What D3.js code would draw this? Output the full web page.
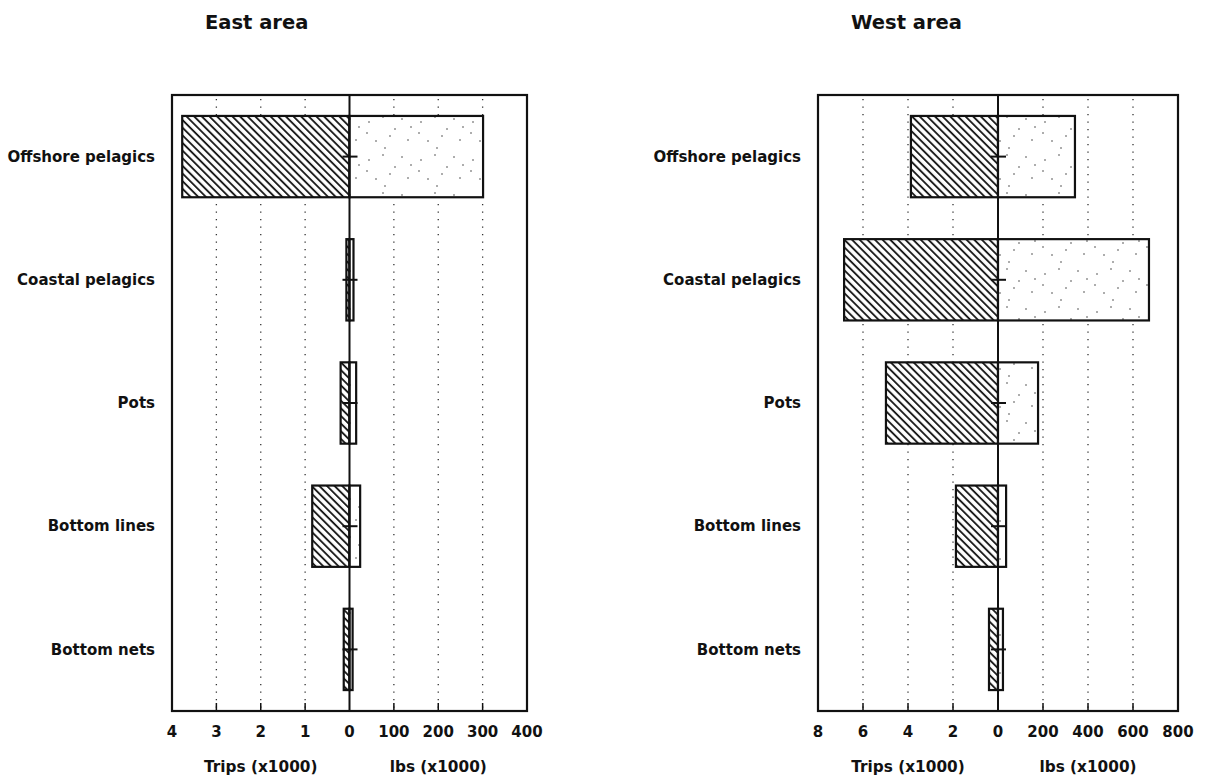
<!DOCTYPE html>
<html>
<head>
<meta charset="utf-8">
<script src="https://cdn.jsdelivr.net/npm/d3@7/dist/d3.min.js"></script>
<style>
  html, body { margin: 0; padding: 0; background: #fff; }
  svg { display: block; }
  text { font-family: "DejaVu Sans", "Liberation Sans", Arial, sans-serif; font-weight: bold; fill: #111; }
</style>
</head>
<body>
<svg id="chart" width="1209" height="784"></svg>
<script>
// ---- data ----
const categories = ["Offshore pelagics", "Coastal pelagics", "Pots", "Bottom lines", "Bottom nets"];
const eastTrips = [3.77, 0.07, 0.2, 0.84, 0.13];   // x1000 trips
const eastLbs   = [301, 9, 15, 24, 7];             // x1000 lbs
const westTrips = [3.87, 6.84, 4.98, 1.87, 0.4];
const westLbs   = [342, 671, 178, 36, 22];
const eastTripTicks = [4, 3, 2, 1];
const eastLbsTicks  = [100, 200, 300, 400];
const westTripTicks = [8, 6, 4, 2];
const westLbsTicks  = [200, 400, 600, 800];
const panelTitles = ["East area", "West area"];
const axisTitles = ["Trips (x1000)", "lbs (x1000)"];

const svg = d3.select("#chart");
const defs = svg.append("defs");

// hatch pattern (lines running top-left to bottom-right)
const hatch = defs.append("pattern")
  .attr("id", "hatch").attr("patternUnits", "userSpaceOnUse")
  .attr("width", 5.4).attr("height", 5.4)
  .attr("patternTransform", "rotate(-45)");
hatch.append("rect").attr("width", 5.4).attr("height", 5.4).attr("fill", "#fff");
hatch.append("line").attr("x1", 1).attr("y1", 0).attr("x2", 1).attr("y2", 5.4)
  .attr("stroke", "#111").attr("stroke-width", 1.8);

// sparse stipple pattern
const stip = defs.append("pattern")
  .attr("id", "stipple").attr("patternUnits", "userSpaceOnUse")
  .attr("width", 52).attr("height", 38);
stip.append("rect").attr("width", 52).attr("height", 38).attr("fill", "#fff");
[[5, 8], [19, 3], [31, 15], [44, 26], [12, 27], [26, 22], [38, 5], [47, 13], [21, 34], [3, 19]]
  .forEach(p => stip.append("circle").attr("cx", p[0]).attr("cy", p[1]).attr("r", 0.75).attr("fill", "#333"));

function drawPanel(cfg) {
  const g = svg.append("g");
  const top = 95, bottom = 711;
  const leftX = d3.scaleLinear().domain([0, cfg.tripMax]).range([cfg.zero, cfg.left]);
  const rightX = d3.scaleLinear().domain([0, cfg.lbsMax]).range([cfg.zero, cfg.right]);
  const y = d3.scaleBand().domain(categories).range([top, bottom])
    .paddingInner(0.34).paddingOuter(0.17);

  // dotted gridlines
  const gridXs = cfg.tripTicks.filter(t => t !== cfg.tripMax).map(t => leftX(t))
    .concat(cfg.lbsTicks.filter(t => t !== cfg.lbsMax).map(t => rightX(t)));
  g.selectAll(".grid").data(gridXs).join("line")
    .attr("x1", d => d).attr("x2", d => d).attr("y1", top + 4).attr("y2", bottom)
    .attr("stroke", "#333").attr("stroke-width", 1.3)
    .attr("stroke-dasharray", "1.3,6.2");

  // bottom ticks
  g.selectAll(".tk").data(gridXs).join("line")
    .attr("x1", d => d).attr("x2", d => d).attr("y1", bottom).attr("y2", bottom - 8)
    .attr("stroke", "#111").attr("stroke-width", 1.5);

  // trips bars (left, hatched)
  g.selectAll(".trip").data(categories).join("rect")
    .attr("x", (d, i) => leftX(cfg.trips[i]))
    .attr("y", d => y(d))
    .attr("width", (d, i) => cfg.zero - leftX(cfg.trips[i]))
    .attr("height", y.bandwidth())
    .attr("fill", "url(#hatch)").attr("stroke", "#111").attr("stroke-width", 2.2);

  // lbs bars (right, stippled)
  g.selectAll(".lbs").data(categories).join("rect")
    .attr("x", cfg.zero)
    .attr("y", d => y(d))
    .attr("width", (d, i) => rightX(cfg.lbs[i]) - cfg.zero)
    .attr("height", y.bandwidth())
    .attr("fill", "url(#stipple)").attr("stroke", "#111").attr("stroke-width", 2.2);

  // frame
  g.append("rect").attr("x", cfg.left).attr("y", top)
    .attr("width", cfg.right - cfg.left).attr("height", bottom - top)
    .attr("fill", "none").attr("stroke", "#111").attr("stroke-width", 2.2);

  // zero line
  g.append("line").attr("x1", cfg.zero).attr("x2", cfg.zero)
    .attr("y1", top).attr("y2", bottom)
    .attr("stroke", "#111").attr("stroke-width", 2);

  // center markers
  g.selectAll(".mk").data(categories).join("line")
    .attr("x1", cfg.zero - 7).attr("x2", cfg.zero + 8)
    .attr("y1", d => y(d) + y.bandwidth() / 2).attr("y2", d => y(d) + y.bandwidth() / 2)
    .attr("stroke", "#111").attr("stroke-width", 2);

  // category labels
  g.selectAll(".cat").data(categories).join("text")
    .attr("x", cfg.left - 17)
    .attr("y", d => y(d) + y.bandwidth() / 2)
    .attr("dy", "0.35em")
    .attr("text-anchor", "end")
    .attr("font-size", 15)
    .text(d => d);

  // tick labels
  const tickData = cfg.tripTicks.map(t => ({x: leftX(t), t: String(t)}))
    .concat([{x: cfg.zero, t: "0"}])
    .concat(cfg.lbsTicks.map(t => ({x: rightX(t), t: String(t)})));
  g.selectAll(".tl").data(tickData).join("text")
    .attr("x", d => d.x).attr("y", 737)
    .attr("text-anchor", "middle").attr("font-size", 15)
    .text(d => d.t);

  // axis titles
  g.append("text").attr("x", leftX(cfg.tripMax / 2)).attr("y", 772)
    .attr("text-anchor", "middle").attr("font-size", 15.3).text(axisTitles[0]);
  g.append("text").attr("x", rightX(cfg.lbsMax / 2)).attr("y", 772)
    .attr("text-anchor", "middle").attr("font-size", 15.3).text(axisTitles[1]);

  // panel title
  g.append("text").attr("x", cfg.left + 33).attr("y", 29)
    .attr("font-size", 19.5).text(cfg.title);
}

drawPanel({
  title: panelTitles[0], left: 172, right: 527, zero: 349.5,
  tripMax: 4, lbsMax: 400, tripTicks: eastTripTicks, lbsTicks: eastLbsTicks,
  trips: eastTrips, lbs: eastLbs
});
drawPanel({
  title: panelTitles[1], left: 818, right: 1178, zero: 998,
  tripMax: 8, lbsMax: 800, tripTicks: westTripTicks, lbsTicks: westLbsTicks,
  trips: westTrips, lbs: westLbs
});
</script>
</body>
</html>
